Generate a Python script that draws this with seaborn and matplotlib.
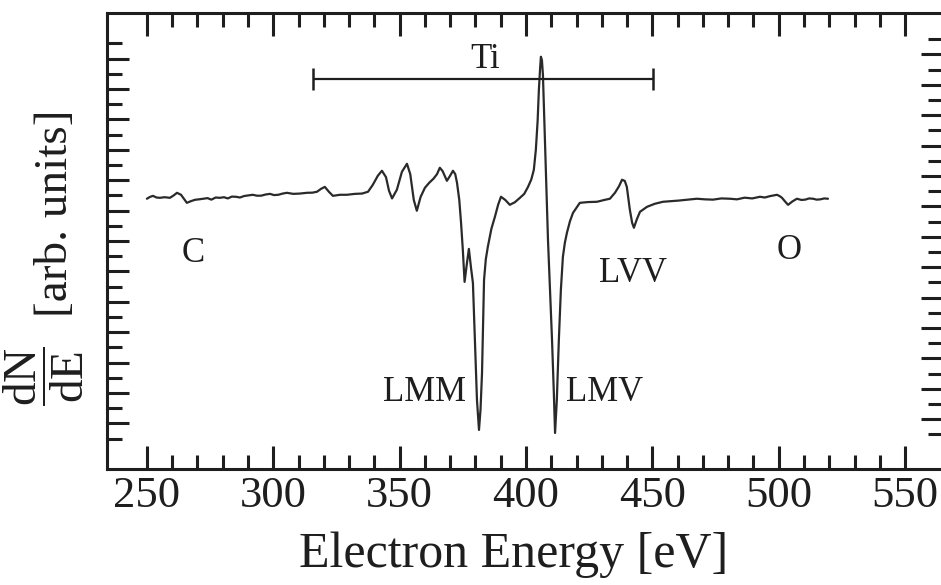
import matplotlib
matplotlib.use("Agg")
import numpy as np
import pandas as pd
import seaborn as sns
import matplotlib.pyplot as plt
from matplotlib.ticker import FixedLocator

# Auger spectrum of a Ti surface (derivative mode)
energy = [250.0, 251.2, 252.4, 253.8, 255.1, 257.0, 259.1, 260.6, 261.9, 263.5,
          265.8, 267.4, 269.0, 270.6, 272.2, 274.0, 275.5, 277.2, 278.9, 280.5,
          282.0, 283.6, 285.2, 286.8, 288.5, 290.2, 291.9, 293.5, 295.2, 297.0,
          298.7, 300.3, 302.0, 303.7, 305.4, 307.9, 310.5, 313.3, 315.5, 317.3,
          318.9, 320.4, 322.0, 323.6, 326.4, 329.1, 332.3, 335.1, 337.5, 339.4,
          341.4, 343.0, 344.6, 345.8, 347.0, 348.9, 350.9, 352.9, 354.2, 355.6,
          356.8, 358.3, 360.0, 361.7, 363.4, 364.8, 365.9, 367.0, 368.7, 370.0,
          371.1, 372.0, 372.7, 373.6, 374.3, 375.0, 375.7, 376.6, 377.4, 378.2,
          379.0, 379.8, 380.6, 381.4, 382.0, 382.6, 383.4, 384.1, 384.9, 386.3,
          387.7, 389.0, 390.1, 391.8, 393.6, 395.6, 397.6, 399.3, 400.8, 402.1,
          403.1, 403.9, 404.6, 405.1, 405.6, 405.9, 406.3, 406.7, 407.5, 408.1,
          408.7, 409.5, 410.3, 411.0, 411.5, 412.2, 413.0, 413.8, 414.6, 415.4,
          416.2, 417.4, 418.6, 421.3, 424.5, 428.1, 431.0, 433.2, 435.2, 436.8,
          438.0, 439.1, 439.9, 441.1, 442.0, 442.7, 443.8, 445.1, 447.9, 451.0,
          454.2, 457.5, 460.5, 464.0, 467.6, 470.8, 474.0, 477.3, 480.7, 483.5,
          486.5, 489.5, 492.6, 494.5, 496.5, 498.0, 499.3, 500.4, 501.3, 502.5,
          503.7, 505.4, 507.2, 509.0, 510.5, 512.0, 513.6, 515.0, 516.5, 518.0,
          519.5]
signal = [17.78, 17.90, 17.97, 17.86, 17.84, 17.88, 17.84, 18.00, 18.17, 18.04,
          17.51, 17.62, 17.71, 17.74, 17.78, 17.82, 17.72, 17.86, 17.84, 17.88,
          17.80, 17.92, 17.91, 17.86, 17.96, 18.00, 18.04, 17.98, 17.98, 18.06,
          18.10, 18.02, 18.04, 18.12, 18.17, 18.10, 18.12, 18.17, 18.18, 18.24,
          18.43, 18.56, 18.24, 17.97, 18.04, 18.04, 18.10, 18.12, 18.24, 18.70,
          19.30, 19.62, 19.20, 18.30, 17.80, 18.37, 19.55, 20.08, 19.40, 17.70,
          16.99, 17.90, 18.50, 18.83, 19.10, 19.40, 19.82, 19.60, 18.96, 19.30,
          19.62, 19.40, 18.83, 17.70, 16.20, 14.42, 12.31, 13.50, 14.48, 13.30,
          12.24, 8.49, 4.54, 2.57, 3.90, 6.32, 12.44, 13.80, 14.62, 15.80,
          16.59, 17.40, 17.91, 17.70, 17.38, 17.55, 17.84, 18.10, 18.56, 19.05,
          19.68, 21.00, 22.90, 24.95, 26.40, 27.12, 26.90, 25.94, 21.66, 18.40,
          15.08, 11.80, 8.49, 5.10, 2.37, 4.54, 8.49, 11.78, 13.96, 14.90,
          15.54, 16.30, 16.85, 17.51, 17.56, 17.58, 17.70, 17.78, 18.17, 18.60,
          19.03, 18.95, 18.56, 17.05, 16.20, 15.87, 16.40, 16.92, 17.25, 17.45,
          17.58, 17.62, 17.66, 17.72, 17.78, 17.74, 17.72, 17.80, 17.78, 17.74,
          17.85, 17.80, 17.91, 17.86, 17.95, 18.00, 18.04, 17.95, 17.84, 17.60,
          17.38, 17.60, 17.78, 17.70, 17.72, 17.80, 17.78, 17.72, 17.74, 17.80,
          17.78]

# Peak labels
peak_names = ["C", "LMM", "LMV", "LVV", "O"]
peak_x = [268.2, 360.0, 431.2, 442.3, 504.1]
peak_y = [14.2, 5.0, 5.0, 12.85, 14.35]

# Ti range marker
ti_span = [315.7, 450.2]
ti_level = 25.67
ti_label_x = 383.8

x_major = [250, 300, 350, 400, 450, 500, 550]
x_minor = list(range(250, 551, 10))
y_major = list(range(3, 28, 2))
y_minor = list(range(2, 29, 2))

df = pd.DataFrame({"energy": energy, "signal": signal})

sns.set_theme(style="ticks")
plt.rcParams["font.family"] = ["Liberation Serif", "DejaVu Serif"]
plt.rcParams["mathtext.fontset"] = "custom"
plt.rcParams["mathtext.rm"] = "Liberation Serif"
plt.rcParams["mathtext.it"] = "Liberation Serif:italic"

ink = "#1e1e1e"
fig = plt.figure(figsize=(9.41, 5.85), dpi=100)
fig.patch.set_facecolor("white")
ax = fig.add_axes([0.1137, 0.1983, 0.8884, 0.7795])
ax.set_facecolor("white")

sns.lineplot(data=df, x="energy", y="signal", ax=ax, color="#2a2a2a",
             linewidth=1.6, estimator=None, sort=False)

ax.set_xlim(234.2, 565.0)
ax.set_ylim(0, 30)

for sp in ax.spines.values():
    sp.set_linewidth(2.2)
    sp.set_color(ink)

ax.xaxis.set_major_locator(FixedLocator(x_major))
ax.xaxis.set_minor_locator(FixedLocator(x_minor))
ax.tick_params(axis="x", which="both", direction="in", top=True, bottom=True,
               width=2.2, color=ink, labelsize=32, pad=5, labelcolor=ink)
ax.tick_params(axis="x", which="major", length=16.5)
ax.tick_params(axis="x", which="minor", length=10)

ax.yaxis.set_major_locator(FixedLocator(y_major))
ax.yaxis.set_minor_locator(FixedLocator(y_minor))
ax.tick_params(axis="y", which="both", direction="in", left=True, right=False,
               labelleft=False, width=2.2, color=ink)
ax.tick_params(axis="y", which="major", length=16)
ax.tick_params(axis="y", which="minor", length=10.5)

# right-hand tick comb, slightly offset
sec = ax.secondary_yaxis("right", functions=(lambda v: v - 0.27, lambda v: v + 0.27))
sec.yaxis.set_major_locator(FixedLocator(y_major))
sec.yaxis.set_minor_locator(FixedLocator(y_minor))
sec.tick_params(axis="y", which="both", direction="in", labelright=False,
                width=2.2, color=ink)
sec.tick_params(axis="y", which="major", length=16)
sec.tick_params(axis="y", which="minor", length=10.5)
sec.spines["right"].set_linewidth(2.2)
sec.spines["right"].set_color(ink)

# Ti bracket
ax.hlines(ti_level, ti_span[0], ti_span[1], color=ink, linewidth=1.6)
ax.vlines(ti_span, ti_level - 0.72, ti_level + 0.72, color=ink, linewidth=1.8)
ax.text(ti_label_x, 26.95, "Ti", ha="center", va="center", fontsize=25, color=ink)

for name, px, py in zip(peak_names, peak_x, peak_y):
    ax.text(px, py, name, ha="center", va="center", fontsize=25, color=ink)

ax.set_xlabel("Electron Energy [eV]", fontsize=36, color=ink)
ax.xaxis.label.set_va("center")
ax.xaxis.set_label_coords(0.487, -0.189)
ax.set_ylabel("")

# y-axis label: dN/dE as a stacked fraction, then the units
fig.text(44 / 941, 1 - 376 / 585, r"$\dfrac{\mathrm{dN}}{\mathrm{dE}}$",
         rotation=90, ha="center", va="center", fontsize=34, color=ink)
fig.text(56 / 941, 1 - 213 / 585, "[arb. units]", rotation=90,
         ha="center", va="center", fontsize=34, color=ink)

fig.savefig("out.png", dpi=100, facecolor="white")
